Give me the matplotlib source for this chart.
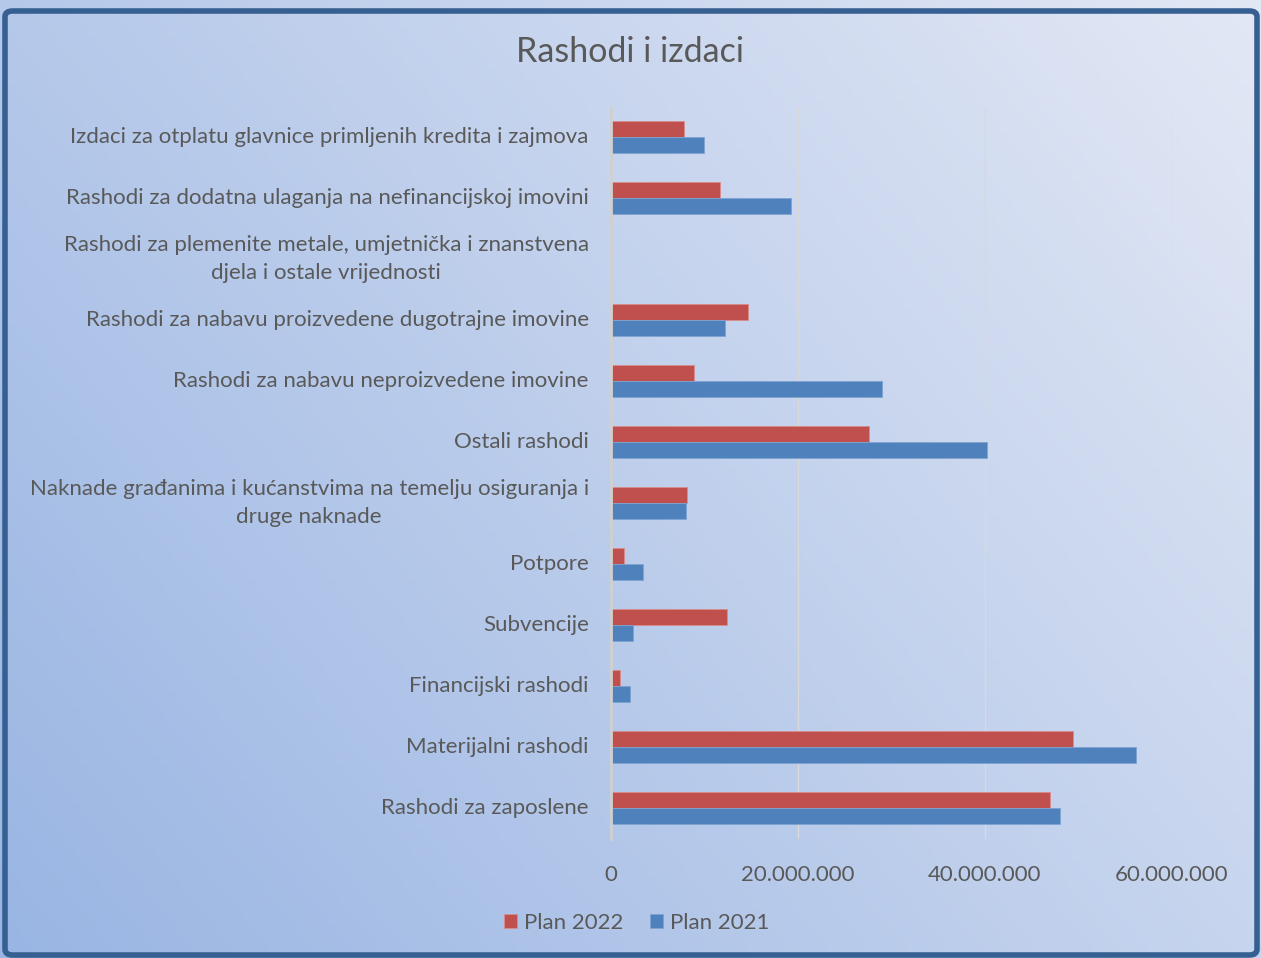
import numpy as np
import matplotlib.pyplot as plt
from matplotlib.patches import FancyBboxPatch
from matplotlib.ticker import FuncFormatter

# Podaci (odozdo prema gore, kao na grafu)
kategorije = [
    "Rashodi za zaposlene",
    "Materijalni rashodi",
    "Financijski rashodi",
    "Subvencije",
    "Potpore",
    "Naknade građanima i kućanstvima na temelju osiguranja i\ndruge naknade",
    "Ostali rashodi",
    "Rashodi za nabavu neproizvedene imovine",
    "Rashodi za nabavu proizvedene dugotrajne imovine",
    "Rashodi za plemenite metale, umjetnička i znanstvena\ndjela i ostale vrijednosti",
    "Rashodi za dodatna ulaganja na nefinancijskoj imovini",
    "Izdaci za otplatu glavnice primljenih kredita i zajmova",
]
plan_2022 = [47000000, 49400000, 950000, 12450000, 1350000, 8150000,
             27600000, 8850000, 14700000, 0, 11700000, 7800000]
plan_2021 = [48000000, 56100000, 2000000, 2350000, 3400000, 8000000,
             40200000, 29000000, 12200000, 0, 19200000, 9900000]
xticks = [0, 20000000, 40000000, 60000000]

plt.rcParams["font.family"] = ["Lato", "DejaVu Sans"]
boja_tekst = "#595959"

fig = plt.figure(figsize=(12.61, 9.58), dpi=100)

# pozadina s gradijentom
bg = fig.add_axes([0, 0, 1, 1], zorder=-2)
bg.set_axis_off()
xx, yy = np.meshgrid(np.linspace(0, 1, 300), np.linspace(0, 1, 300))
t = np.clip(0.62 * xx + 0.38 * yy, 0, 1)
c0 = np.array([0.60, 0.71, 0.89])
c1 = np.array([0.89, 0.91, 0.96])
img = c0[None, None, :] * (1 - t[..., None]) + c1[None, None, :] * t[..., None]
bg.imshow(img, origin="lower", extent=[0, 1, 0, 1], aspect="auto")
bg.set_xlim(0, 1)
bg.set_ylim(0, 1)
okvir = FancyBboxPatch((5 / 1261, 3 / 958), 1252 / 1261, 944 / 958,
                       boxstyle="round,pad=0,rounding_size=0.006",
                       transform=bg.transAxes, fill=False,
                       edgecolor="#366092", linewidth=4)
bg.add_patch(okvir)
# bijela traka iznad okvira
bg.axhspan(1 - 8 / 958, 1, color="white", zorder=-1)

ax = fig.add_axes([611 / 1261, 1 - 838.5 / 958, 561 / 1261, 732 / 958])
ax.patch.set_alpha(0)

y = np.arange(len(kategorije))
h = 0.26
ax.barh(y + h / 2, plan_2022, height=h, color="#C0504D", label="Plan 2022",
        edgecolor="#D98C8A", linewidth=0.6)
ax.barh(y - h / 2, plan_2021, height=h, color="#4F81BD", label="Plan 2021",
        edgecolor="#7FA3D1", linewidth=0.6)

ax.set_xlim(0, 60000000)
ax.set_ylim(-0.5, len(kategorije) - 0.5)
ax.set_xticks(xticks)
ax.xaxis.set_major_formatter(FuncFormatter(lambda v, p: f"{int(v):,}".replace(",", ".")))
ax.set_yticks(y)
ax.set_yticklabels(kategorije, multialignment="center", linespacing=1.45, va="center")
ax.tick_params(axis="both", length=0, labelsize=16, colors=boja_tekst)
ax.tick_params(axis="y", pad=16)
ax.tick_params(axis="x", pad=19)
ax.grid(axis="x", color="#D9D9D9", linewidth=1)
ax.set_axisbelow(True)
for s in ["top", "right", "bottom"]:
    ax.spines[s].set_visible(False)
ax.spines["left"].set_color("#D0D0D0")
ax.spines["left"].set_linewidth(2)

fig.text(0.5, 1 - 52 / 958, "Rashodi i izdaci", ha="center", va="center",
         fontsize=24.5, color=boja_tekst)

fig.legend(loc="center", bbox_to_anchor=(0.505, 1 - 923 / 958), ncol=2,
           frameon=False, fontsize=16, labelcolor=boja_tekst,
           handlelength=0.6, handleheight=0.6, handletextpad=0.3,
           columnspacing=1.2)

plt.savefig("out.png", dpi=100)
